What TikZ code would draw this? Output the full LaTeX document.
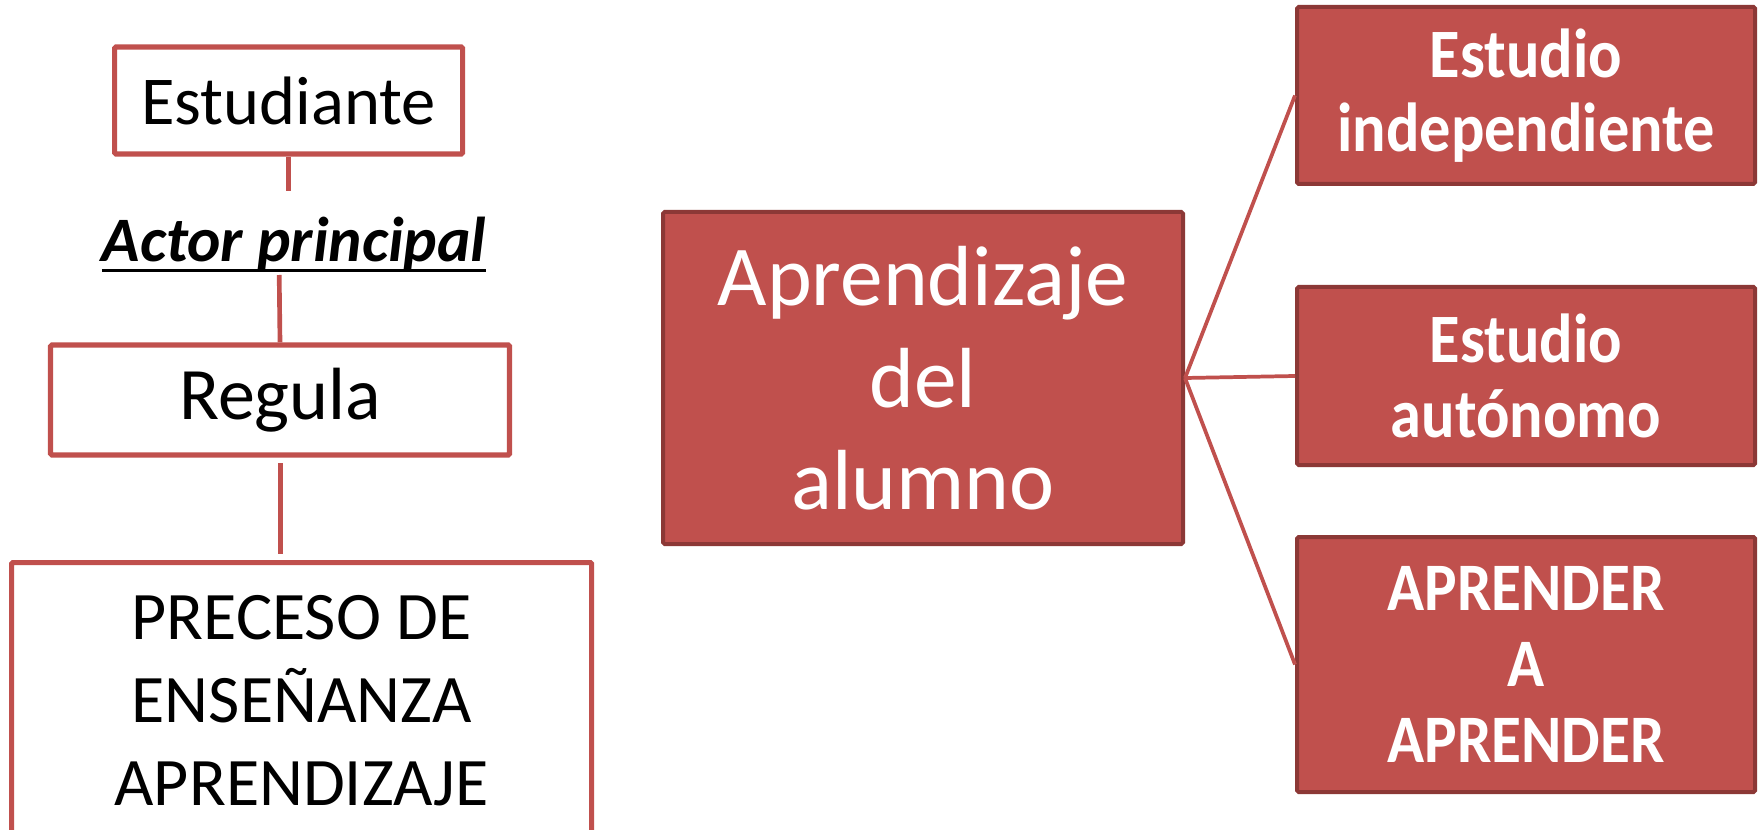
\documentclass[tikz,border=0pt]{standalone}
\usepackage{fontspec}
\setmainfont{Carlito}
\newcommand\pxu{0.75pt}
\newcommand\ulline[1]{\setbox0\hbox{#1}\rlap{\rule[-7.5pt]{\wd0}{2.6pt}}\box0}
\definecolor{accred}{RGB}{192,80,77}
\definecolor{darkred}{RGB}{140,56,54}
\tikzset{
  lbox/.style={draw=accred, line width=3.8pt, fill=white, rectangle, rounded corners=1pt, inner sep=0pt, align=center, text=black},
  rbox/.style={draw=darkred, line width=3pt, fill=accred, rectangle, rounded corners=1.2pt, inner sep=0pt, align=center, text=white},
  lconn/.style={draw=accred, line width=3.5pt},
  rconn/.style={draw=accred, line width=2.8pt},
}
\begin{document}
\begin{tikzpicture}[x=0.75pt, y=-0.75pt]
\useasboundingbox (0,0) rectangle (1759,830);
\clip (0,0) rectangle (1759,830);
\fill[white] (0,0) rectangle (1759,830);

% left column
\node[lbox, minimum width=348*\pxu, minimum height=107*\pxu,
      font=\fontsize{51.4pt}{62pt}\selectfont] (est) at (288.6,100.5) {Estudiante};
\node[anchor=base, inner sep=0pt, font=\fontsize{47.5pt}{57pt}\selectfont\bfseries\itshape]
      (actor) at (294,262) {\ulline{Actor principal}};
\node[lbox, minimum width=459*\pxu, minimum height=110*\pxu,
      font=\fontsize{55.5pt}{66pt}\selectfont] (reg) at (280,400) {Regula};
\node[lbox, anchor=north west, minimum width=580*\pxu, minimum height=276*\pxu,
      font=\fontsize{51pt}{62.25pt}\selectfont] (proc) at (9,560)
      {PRECESO DE\\ENSEÑANZA\\APRENDIZAJE};

\coordinate (e1) at (288.6,191);
\coordinate (a1) at (279.2,275);
\coordinate (r1) at (280.7,463);
\coordinate (p1) at (280.7,554);
\draw[lconn] (est.south) -- (e1);
\draw[lconn] (a1) -- (reg.north);
\draw[lconn] (r1) -- (p1);

% right part
\node[rbox, minimum width=520*\pxu, minimum height=332*\pxu,
      font=\fontsize{64pt}{76.5pt}\selectfont] (main) at (923,378)
      {Aprendizaje\\del\\alumno};
\node[rbox, minimum width=458*\pxu, minimum height=177*\pxu,
      font=\fontsize{52pt}{56pt}\selectfont\bfseries\addfontfeatures{FakeStretch=0.9}] (s1) at (1526,95.5)
      {Estudio\\independiente};
\node[rbox, minimum width=458*\pxu, minimum height=178*\pxu,
      font=\fontsize{52pt}{56pt}\selectfont\bfseries\addfontfeatures{FakeStretch=0.9}] (s2) at (1526,376)
      {Estudio\\autónomo};
\node[rbox, minimum width=458*\pxu, minimum height=255*\pxu,
      font=\fontsize{51pt}{57pt}\selectfont\bfseries\addfontfeatures{FakeStretch=0.9}] (s3) at (1526,664.5)
      {APRENDER\\A\\APRENDER};

\draw[rconn] (main.east) -- (s1.west);
\draw[rconn] (main.east) -- (s2.west);
\draw[rconn] (main.east) -- (s3.west);
\end{tikzpicture}
\end{document}
